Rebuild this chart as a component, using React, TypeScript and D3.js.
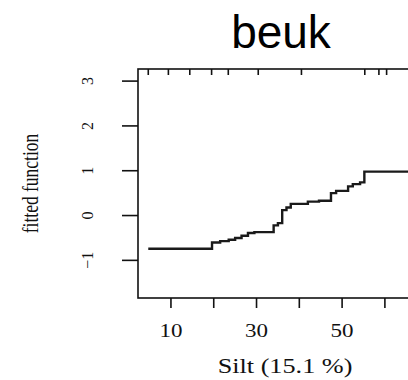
import React from "react";
import * as d3 from "d3";

// step function: silt (%) where each step starts, fitted value
const siltSteps = [4.7, 19.6, 21.5, 23.5, 25.0, 26.5, 28.0, 29.5, 34.0, 35.0, 36.0, 37.0, 38.0, 42.0, 44.6, 47.4, 48.6, 51.4, 52.5, 54.2, 55.2, 72];
const fittedSteps = [-0.74, -0.6, -0.57, -0.54, -0.5, -0.45, -0.39, -0.37, -0.22, -0.17, 0.12, 0.18, 0.26, 0.31, 0.33, 0.5, 0.55, 0.65, 0.7, 0.74, 0.98, 0.98];

// rug marks along the top
const rug = [4.7, 9.4, 14.4, 19.5, 23.4, 30.4, 40.5, 55.3, 58.6, 60.4];

const xTicks = [10, 20, 30, 40, 50, 60];
const xTickLabels = ["10", "", "30", "", "50", ""];
const yTicks = [-1, 0, 1, 2, 3];
const yTickLabels = ["\u22121", "0", "1", "2", "3"];

const W = 408;
const H = 380;
const plot = { left: 138, top: 69, bottom: 298, right: 440 };
const serif = "'Liberation Serif', 'Times New Roman', serif";
const stretch = 1.28;

export default function App() {
  const x = d3.scaleLinear().domain([2.3, 65.4]).range([plot.left, W]);
  const y = d3.scaleLinear().domain([-1.84, 3.27]).range([plot.bottom, plot.top]);

  const pts: [number, number][] = siltSteps.map((s, i) => [s, fittedSteps[i]]);
  const line = d3
    .line<[number, number]>()
    .x((d) => x(d[0]))
    .y((d) => y(d[1]))
    .curve(d3.curveStepAfter);

  return (
    <svg
      width={W}
      height={H}
      style={{ position: "absolute", left: 0, top: 0, background: "#fff" }}
    >
      <text
        x={281}
        y={48}
        textAnchor="middle"
        fontSize={46}
        fontFamily="'Liberation Sans', Arial, sans-serif"
        fill="#000"
      >
        beuk
      </text>

      {/* box */}
      <rect
        x={plot.left}
        y={plot.top}
        width={plot.right - plot.left}
        height={plot.bottom - plot.top}
        fill="none"
        stroke="#111"
        strokeWidth={1.6}
      />

      {/* rug */}
      {rug.map((r, i) => (
        <line key={i} x1={x(r)} x2={x(r)} y1={plot.top} y2={plot.top + 6} stroke="#111" strokeWidth={1.6} />
      ))}

      {/* fitted step line */}
      <path d={line(pts) || ""} fill="none" stroke="#1a1a1a" strokeWidth={2.4} />

      {/* x axis */}
      {xTicks.map((t, i) => (
        <g key={t}>
          <line x1={x(t)} x2={x(t)} y1={plot.bottom} y2={plot.bottom + 10} stroke="#111" strokeWidth={1.6} />
          {xTickLabels[i] && (
            <text
              transform={`translate(${x(t)},337) scale(${stretch},1)`}
              textAnchor="middle"
              fontSize={18}
              fontFamily={serif}
              fill="#111"
            >
              {xTickLabels[i]}
            </text>
          )}
        </g>
      ))}
      <text
        transform={`translate(285,373) scale(${stretch},1)`}
        textAnchor="middle"
        fontSize={20.5}
        fontFamily={serif}
        fill="#111"
      >
        Silt (15.1 %)
      </text>

      {/* y axis */}
      {yTicks.map((t, i) => (
        <g key={t}>
          <line x1={plot.left - 16} x2={plot.left} y1={y(t)} y2={y(t)} stroke="#111" strokeWidth={1.6} />
          <text
            transform={`translate(93,${y(t)}) rotate(-90)`}
            textAnchor="middle"
            fontSize={16}
            fontFamily={serif}
            fill="#111"
          >
            {yTickLabels[i]}
          </text>
        </g>
      ))}
      <text
        transform={`translate(38,183.5) scale(${stretch},1) rotate(-90)`}
        textAnchor="middle"
        fontSize={17.5}
        fontFamily={serif}
        fill="#111"
      >
        fitted function
      </text>
    </svg>
  );
}
